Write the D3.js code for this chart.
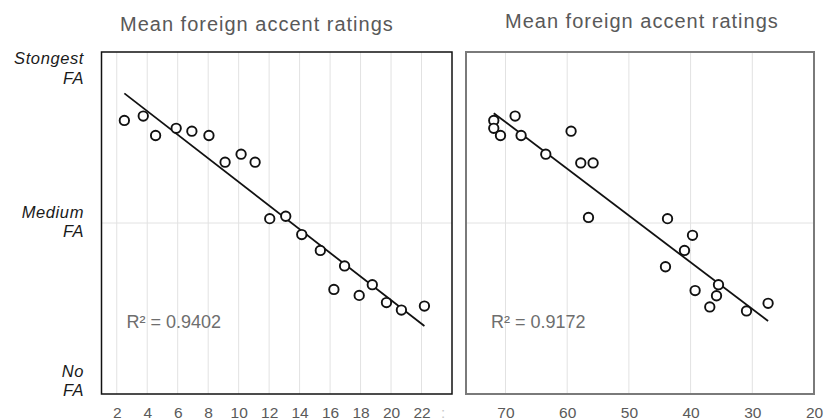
<!DOCTYPE html>
<html><head><meta charset="utf-8">
<script src="https://cdn.jsdelivr.net/npm/d3@7"></script>
<style>
html,body{margin:0;padding:0;background:#fff;}
svg{display:block;font-family:"Liberation Sans",Arial,sans-serif;}
</style></head>
<body>
<svg id="chart" width="830" height="420"></svg>
<script>
// ---- data ----
const chartTitle = "Mean foreign accent ratings";
// y-axis category labels (rating scale: 1 = no FA, 5 = medium, ~9 = strongest)
const yLabelValues = [8.85, 5, 1];
const yLabelLines = [["Stongest","FA"],["Medium","FA"],["No","FA"]];

// left panel
const leftX = [2.50,3.74,4.55,5.90,6.93,8.05,9.11,10.16,11.08,12.04,13.09,14.14,15.36,16.95,16.25,17.91,18.77,19.70,20.68,22.19];
const leftY = [7.58,7.69,7.20,7.38,7.31,7.20,6.53,6.73,6.53,5.11,5.17,4.71,4.31,3.92,3.33,3.18,3.45,3.00,2.81,2.91];
const leftTicks = [2,4,6,8,10,12,14,16,18,20,22];
const leftR2 = "R² = 0.9402";

// right panel
const rightX = [71.90,71.90,70.81,68.44,67.47,63.47,59.37,57.80,55.80,56.55,43.74,39.69,40.99,44.07,39.27,35.48,35.80,36.89,30.94,27.44];
const rightY = [7.58,7.38,7.20,7.69,7.20,6.73,7.31,6.51,6.51,5.14,5.11,4.69,4.31,3.90,3.30,3.45,3.17,2.89,2.79,2.98];
const rightTicks = [70,60,50,40,30,20];
const rightR2 = "R² = 0.9172";

// ---- drawing ----
const svg = d3.select("#chart");
const yTop = 52, yBottom = 394;
const y = d3.scaleLinear().domain([0.7, 9.3]).range([yBottom, yTop]);

function ols(xs, ys){
  const mx = d3.mean(xs), my = d3.mean(ys);
  let sxy = 0, sxx = 0;
  xs.forEach((v,i)=>{ sxy += (v-mx)*(ys[i]-my); sxx += (v-mx)*(v-mx); });
  const b = sxy/sxx;
  return {b, a: my - b*mx};
}

function panel(opts){
  const {x, xs, ys, ticks, r2, frameColor, frameWidth, titleX, titleY, extraLabel} = opts;
  const [x0, x1] = x.range();
  const g = svg.append("g");
  // vertical gridlines
  g.selectAll("line.vg").data(ticks.filter(t => Math.abs(x(t)-x1) > 2)).join("line")
    .attr("x1", d=>x(d)).attr("x2", d=>x(d)).attr("y1", yTop).attr("y2", yBottom)
    .attr("stroke", "#e2e2e2").attr("stroke-width", 1);
  // horizontal gridline at medium
  g.append("line").attr("x1", x0).attr("x2", x1).attr("y1", y(5)).attr("y2", y(5))
    .attr("stroke", "#e2e2e2").attr("stroke-width", 1);
  // frame
  g.append("rect").attr("x", x0).attr("y", yTop).attr("width", x1-x0).attr("height", yBottom-yTop)
    .attr("fill", "none").attr("stroke", frameColor).attr("stroke-width", frameWidth);
  // regression line
  const {a, b} = ols(xs, ys);
  const ext = d3.extent(xs);
  g.append("line")
    .attr("x1", x(ext[0])).attr("y1", y(a + b*ext[0]))
    .attr("x2", x(ext[1])).attr("y2", y(a + b*ext[1]))
    .attr("stroke", "#111").attr("stroke-width", 1.8);
  // points
  g.selectAll("circle").data(xs.map((v,i)=>[v, ys[i]])).join("circle")
    .attr("cx", d=>x(d[0])).attr("cy", d=>y(d[1])).attr("r", 4.7)
    .attr("fill", "#fff").attr("stroke", "#111").attr("stroke-width", 1.9);
  // R2
  g.append("text").attr("x", x0 + 25).attr("y", y(2.35))
    .attr("font-size", 18).attr("fill", "#6e6e6e").text(r2);
  // x tick labels
  const axis = d3.axisBottom(x).tickValues(ticks).tickSize(0).tickPadding(0).tickFormat(d3.format("d"));
  const ax = svg.append("g").attr("transform", `translate(0,${yBottom+24})`).call(axis);
  ax.select(".domain").remove();
  ax.selectAll("text").attr("font-size", 15.5).attr("fill", "#5a5a5a")
    .attr("font-family", '"Liberation Sans",Arial,sans-serif').attr("dy", "0");
  if (extraLabel) {
    svg.append("text").attr("x", x1 - 9).attr("y", yBottom+24).attr("text-anchor","middle")
      .attr("font-size", 15).attr("fill", "#c8c8c8").text(extraLabel);
  }
  // title
  svg.append("text").attr("x", titleX).attr("y", titleY)
    .attr("font-size", 20).attr("letter-spacing", 1).attr("fill", "#595959").text(chartTitle);
}

const xLeft = d3.scaleLinear().domain([1, 24]).range([101.5, 452]);
const xRight = d3.scaleLinear().domain([76.4, 20]).range([466, 814]);

panel({x: xLeft, xs: leftX, ys: leftY, ticks: leftTicks, r2: leftR2,
  frameColor: "#111", frameWidth: 1.5, titleX: 120, titleY: 31, extraLabel: ":"});
panel({x: xRight, xs: rightX, ys: rightY, ticks: rightTicks, r2: rightR2,
  frameColor: "#7a7a7a", frameWidth: 2, titleX: 505, titleY: 28});

// y labels
const yl = svg.append("g");
yLabelValues.forEach((v,i)=>{
  const t = yl.append("text").attr("text-anchor","end").attr("font-style","italic")
    .attr("font-size", 16.5).attr("letter-spacing", 0.6).attr("fill", "#1a1a1a");
  t.append("tspan").attr("x", 84).attr("y", y(v) - 5.5).text(yLabelLines[i][0]);
  t.append("tspan").attr("x", 84).attr("y", y(v) + 14).text(yLabelLines[i][1]);
});
</script>
</body></html>
